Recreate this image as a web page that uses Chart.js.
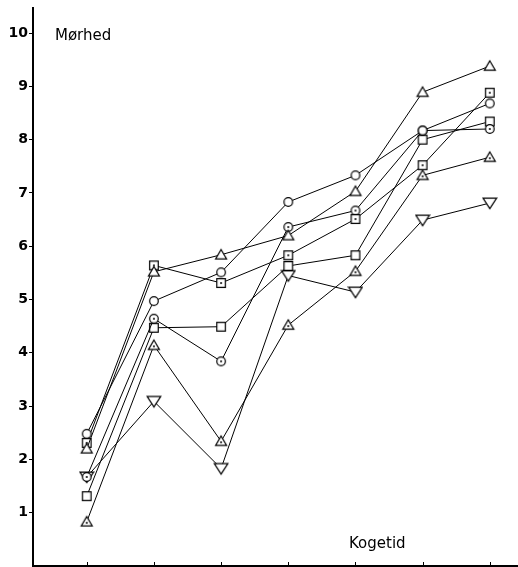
<!DOCTYPE html>
<html lang="da">
<head>
  <meta charset="UTF-8">
  <title>Mørhed / Kogetid</title>
  <style>
    html, body { margin: 0; padding: 0; background: #fff; }
    .chartBox { width: 518px; height: 567px; }
  </style>
</head>
<body>
<div class="chartBox">
  <canvas id="myChart"></canvas>
</div>
<script src="https://cdn.jsdelivr.net/npm/chart.js"></script>
<script>
  // kogetid (x positions) and y tick labels
  const xValues = [0, 1, 2, 3, 4, 5, 6];
  const yTicks = [1, 2, 3, 4, 5, 6, 7, 8, 9, 10];

  // mørhed per series
  const trekant     = [2.20, 5.52, 5.84, 6.20, 7.03, 8.89, 9.38];
  const cirkel      = [2.48, 4.97, 5.51, 6.83, 7.33, 8.17, 8.68];
  const kvadratPrik = [2.31, 5.64, 5.31, 5.83, 6.51, 7.52, 8.88];
  const cirkelPrik  = [1.67, 4.64, 3.84, 6.36, 6.67, 8.17, 8.20];
  const kvadrat     = [1.31, 4.47, 4.49, 5.63, 5.83, 8.00, 8.34];
  const trekantPrik = [0.83, 4.14, 2.34, 4.52, 5.53, 7.33, 7.67];
  const omvendt     = [1.67, 3.09, 1.83, 5.45, 5.14, 6.49, 6.81];

  // small canvases used as point styles
  function makeMarker(shape, dot) {
    const c = document.createElement('canvas');
    const s = 16;
    c.width = s; c.height = s;
    const g = c.getContext('2d');
    const m = s / 2;
    g.lineWidth = 1.2;
    g.strokeStyle = '#000';
    g.fillStyle = '#fff';
    g.beginPath();
    if (shape === 'circle') {
      g.arc(m, m, 4.3, 0, Math.PI * 2);
    } else if (shape === 'rect') {
      g.rect(m - 4.3, m - 4.3, 8.6, 8.6);
    } else if (shape === 'tri') {
      g.moveTo(m, m - 5.2);
      g.lineTo(m + 5.5, m + 4.2);
      g.lineTo(m - 5.5, m + 4.2);
      g.closePath();
    } else if (shape === 'down') {
      g.moveTo(m - 6.8, m - 4.8);
      g.lineTo(m + 6.8, m - 4.8);
      g.lineTo(m, m + 5.6);
      g.closePath();
    }
    g.fill();
    g.stroke();
    if (dot) {
      g.fillStyle = '#000';
      g.beginPath();
      g.arc(m, shape === 'tri' ? m + 1 : m, 1, 0, Math.PI * 2);
      g.fill();
    }
    return c;
  }

  function serie(values, marker) {
    return {
      data: xValues.map((x, i) => ({ x: x, y: values[i] })),
      borderColor: '#000',
      borderWidth: 1,
      pointStyle: marker,
      pointRadius: 5,
      pointHoverRadius: 5,
      tension: 0,
      clip: false
    };
  }

  const labelsPlugin = {
    id: 'labels',
    afterDraw(chart) {
      const c = chart.ctx;
      const xs = chart.scales.x;
      const bottom = chart.chartArea.bottom;
      c.save();
      // small ticks pointing up from the x axis
      c.strokeStyle = '#000';
      c.lineWidth = 1;
      xValues.forEach(v => {
        const px = Math.round(xs.getPixelForValue(v)) + 0.5;
        c.beginPath();
        c.moveTo(px, bottom);
        c.lineTo(px, bottom - 4);
        c.stroke();
      });
      c.fillStyle = '#000';
      c.font = '15px "DejaVu Sans"';
      c.textBaseline = 'alphabetic';
      c.fillText('Mørhed', 55, 40);
      c.fillText('Kogetid', 349, 548);
      c.restore();
    }
  };

  const ctx = document.getElementById('myChart');

  const myChart = new Chart(ctx, {
    type: 'line',
    data: {
      datasets: [
        serie(trekant, makeMarker('tri', false)),
        serie(cirkel, makeMarker('circle', false)),
        serie(kvadratPrik, makeMarker('rect', true)),
        serie(cirkelPrik, makeMarker('circle', true)),
        serie(kvadrat, makeMarker('rect', false)),
        serie(trekantPrik, makeMarker('tri', true)),
        serie(omvendt, makeMarker('down', false))
      ]
    },
    options: {
      responsive: true,
      maintainAspectRatio: false,
      animation: { duration: 0 },
      layout: { autoPadding: false, padding: { top: 8, right: 0, bottom: 0, left: 0 } },
      plugins: {
        legend: { display: false },
        tooltip: { enabled: false }
      },
      scales: {
        x: {
          type: 'linear',
          min: -0.8,
          max: 6.42,
          afterFit(scale) { scale.height = 1; },
          ticks: { display: false },
          grid: { display: false, drawTicks: false },
          border: { display: true, color: '#000', width: 2 }
        },
        y: {
          min: 0,
          max: 10.47,
          afterBuildTicks(scale) { scale.ticks = yTicks.map(v => ({ value: v })); },
          afterFit(scale) {
            scale.width = 33;
            scale.paddingTop = 0;
            scale.paddingBottom = 0;
          },
          ticks: {
            color: '#000',
            padding: 1,
            font: { family: '"DejaVu Sans"', size: 14, weight: 'bold' }
          },
          grid: { drawOnChartArea: false, tickLength: 4, color: '#000', lineWidth: 1 },
          border: { display: true, color: '#000', width: 2 }
        }
      }
    },
    plugins: [labelsPlugin]
  });
</script>
</body>
</html>
